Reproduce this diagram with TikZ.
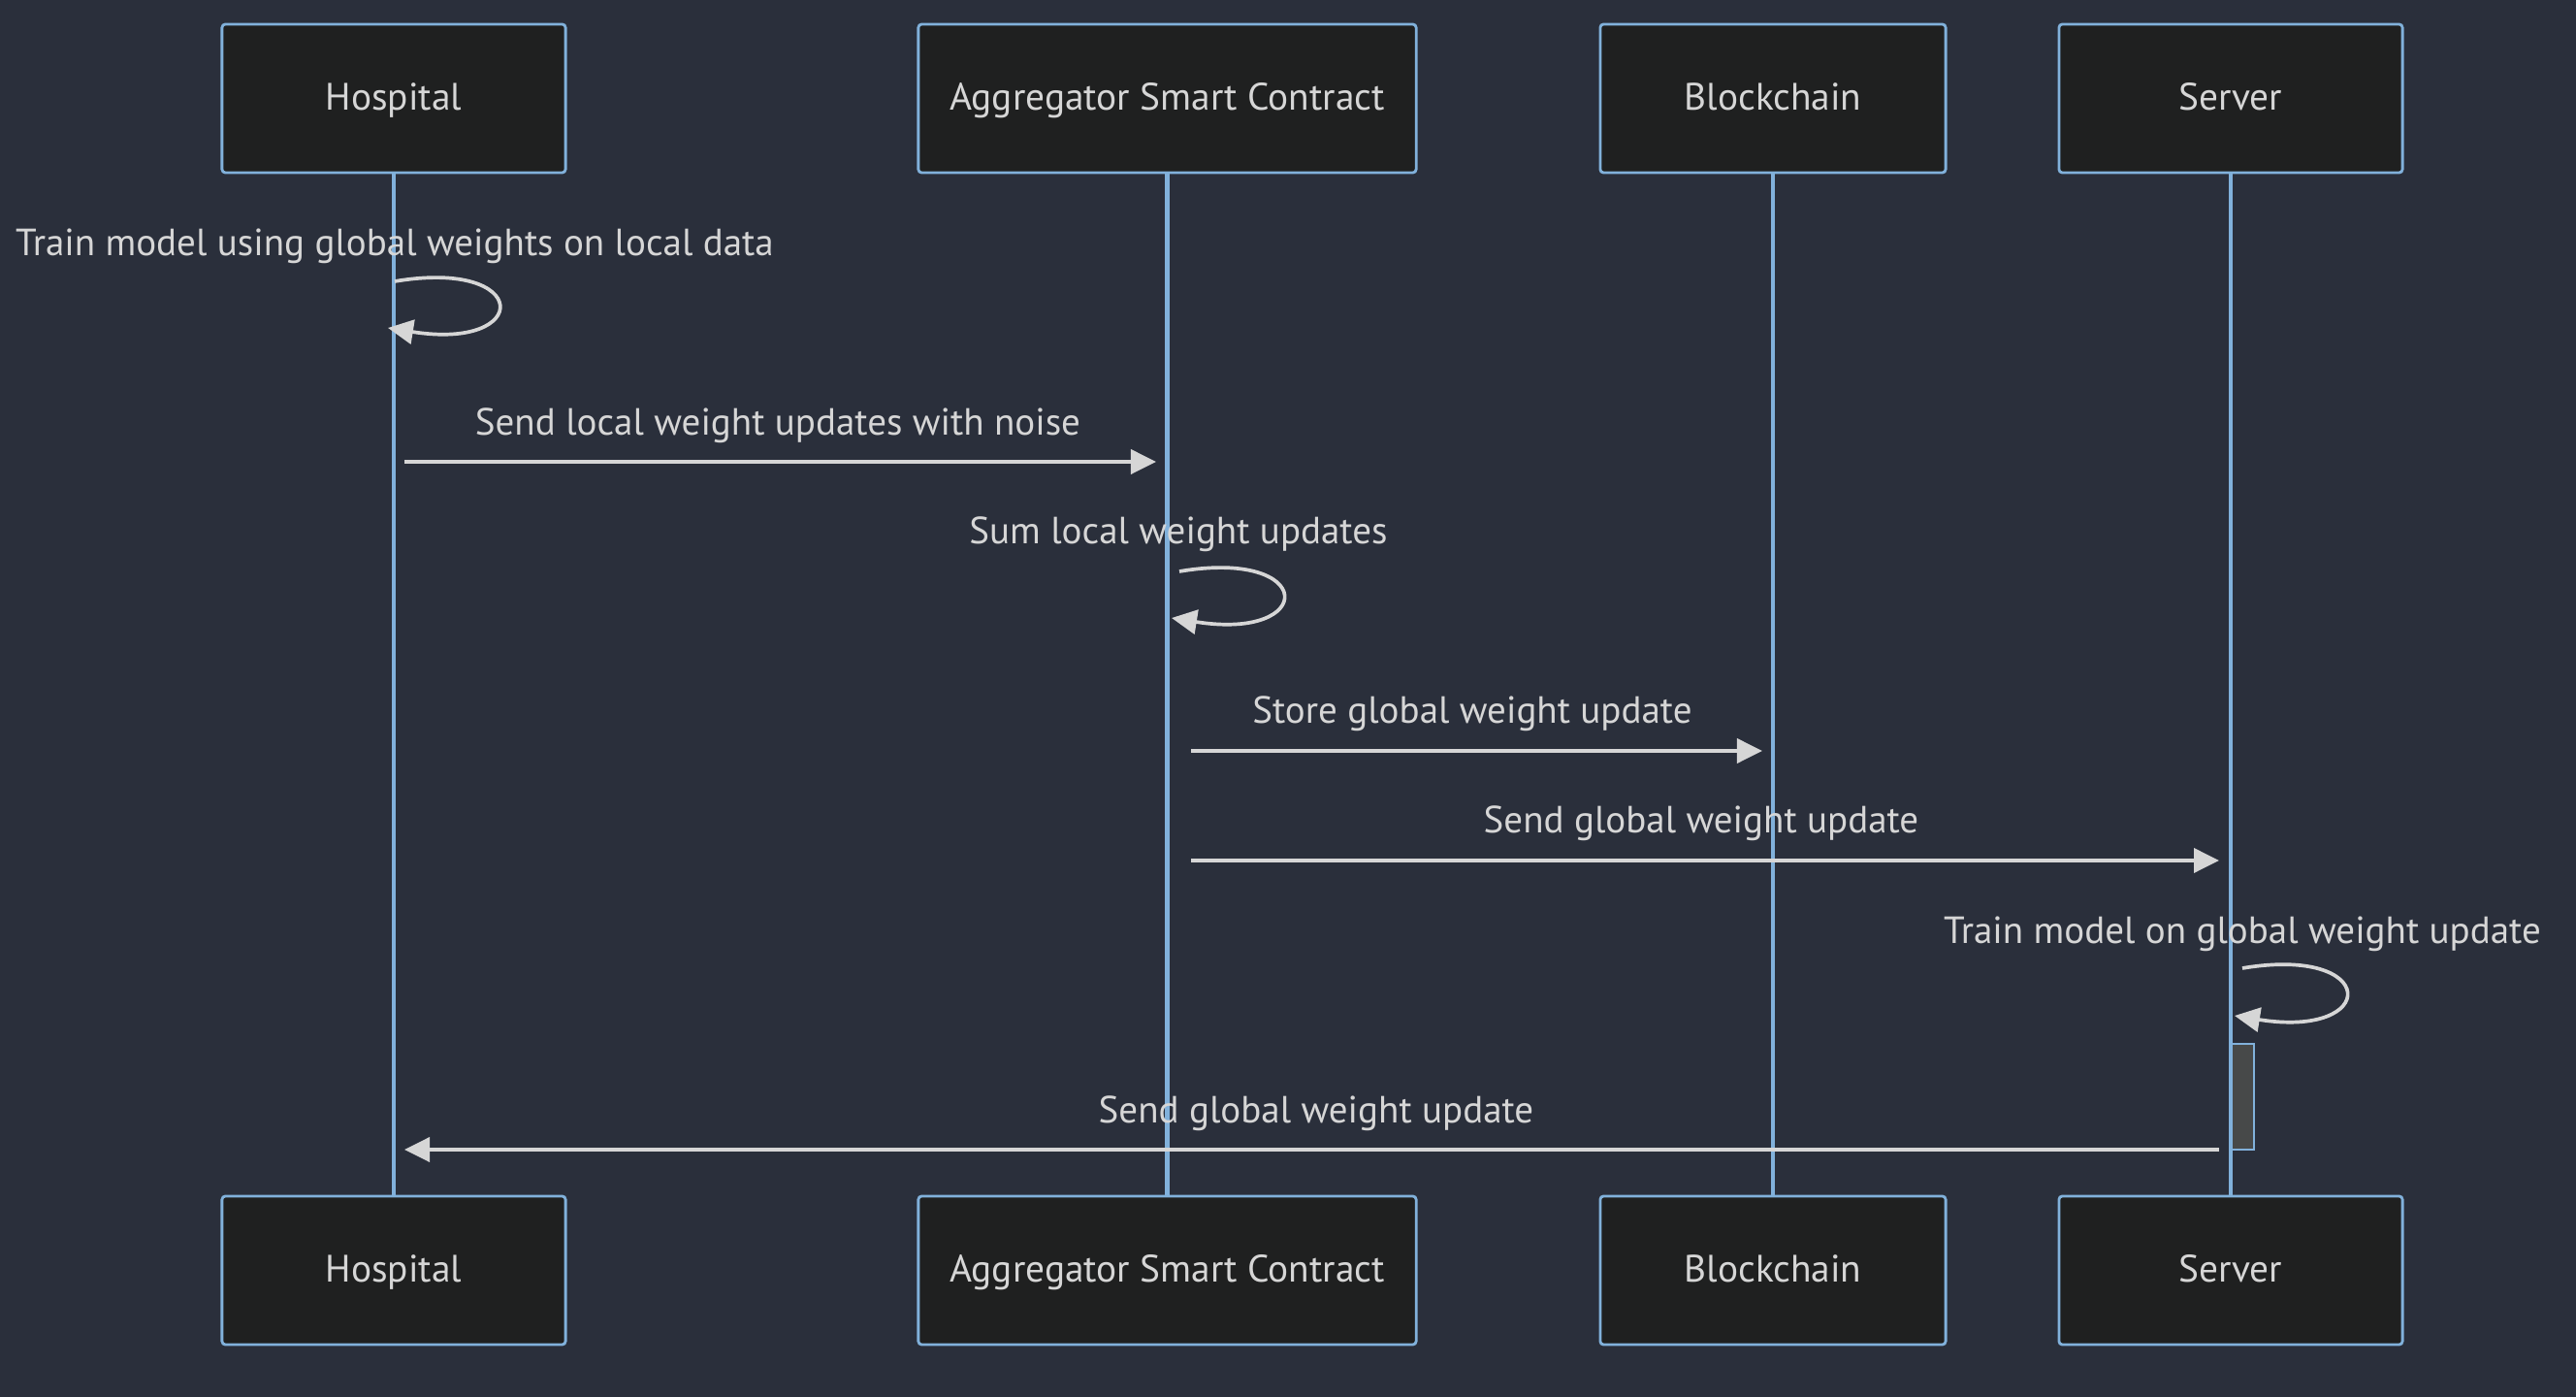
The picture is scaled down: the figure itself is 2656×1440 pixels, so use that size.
\documentclass[tikz,border=0pt]{standalone}
\usepackage{fontspec}
\setmainfont{PT Sans}
\usetikzlibrary{arrows.meta}
\definecolor{mybg}{RGB}{42,47,59}
\definecolor{myblue}{RGB}{129,177,219}
\definecolor{myfill}{RGB}{31,32,32}
\definecolor{mytext}{RGB}{214,214,214}
\definecolor{myact}{RGB}{71,73,73}

\tikzset{
    actor/.style={draw=myblue, fill=myfill, line width=0.8pt, rounded corners=1pt,
        minimum height=1.53cm, text=mytext, text height=0.7em, text depth=0pt,
        font=\fontsize{11.2}{13}\selectfont},
    life/.style={draw=myblue, line width=1.25pt},
    msg/.style={draw=mytext, line width=1.05pt, -{Triangle[length=0.26cm, width=0.25cm]}},
    msgtext/.style={text=mytext, inner sep=0pt, text height=0.7em, text depth=0pt,
        yshift=-0.8pt, font=\fontsize{11.1}{13}\selectfont},
    activ/.style={draw=myblue, fill=myact, line width=0.8pt, minimum width=0.23cm, minimum height=1.09cm, inner sep=0pt}
}

\begin{document}
\begin{tikzpicture}[x=0.01cm, y=-0.01cm]
    % Background
    \fill[mybg] (0,0) rectangle (2656,1440);

    % Participants
    \begin{scope}
        \node[actor, minimum width=3.54cm] (hosp) at (406,101.5) {Hospital};
        \node[actor, minimum width=5.13cm] (aggr) at (1203.5,101.5) {Aggregator Smart Contract};
        \node[actor, minimum width=3.56cm] (chain) at (1828,101.5) {Blockchain};
        \node[actor, minimum width=3.54cm] (serv) at (2300,101.5) {Server};

        \node[actor, minimum width=3.54cm] (hospB) at (406,1309.5) {Hospital};
        \node[actor, minimum width=5.13cm] (aggrB) at (1203.5,1309.5) {Aggregator Smart Contract};
        \node[actor, minimum width=3.56cm] (chainB) at (1828,1309.5) {Blockchain};
        \node[actor, minimum width=3.54cm] (servB) at (2300,1309.5) {Server};

        \draw[life] (hosp.south) -- (hospB.north);
        \draw[life] (aggr.south) -- (aggrB.north);
        \draw[life] (chain.south) -- (chainB.north);
        \draw[life] (serv.south) -- (servB.north);
    \end{scope}

    % Activation on the server
    \node[activ] (act) at (2312.5,1130.5) {};

    % Messages
    \begin{scope}
        \node[msgtext] (t1) at (407,248) {Train model using global weights on local data};
        \coordinate (l1a) at (407,290);
        \coordinate (l1b) at (400,338);
        \draw[msg] (l1a) .. controls +(142,-24) and +(149,24) .. (l1b);

        \node[msgtext] (t2) at (802,433) {Send local weight updates with noise};
        \coordinate (m2a) at (417,476);
        \coordinate (m2b) at (1192,476);
        \draw[msg] (m2a) -- (m2b);

        \node[msgtext] (t3) at (1215,545) {Sum local weight updates};
        \coordinate (l3a) at (1216,589);
        \coordinate (l3b) at (1208,637);
        \draw[msg] (l3a) .. controls +(142,-24) and +(150,24) .. (l3b);

        \node[msgtext] (t4) at (1518,730) {Store global weight update};
        \coordinate (m4a) at (1228,774);
        \coordinate (m4b) at (1817,774);
        \draw[msg] (m4a) -- (m4b);

        \node[msgtext] (t5) at (1754,843) {Send global weight update};
        \coordinate (m5a) at (1228,887);
        \coordinate (m5b) at (2288,887);
        \draw[msg] (m5a) -- (m5b);

        \node[msgtext] (t6) at (2312,957) {Train model on global weight update};
        \coordinate (l6a) at (2312,998);
        \coordinate (l6b) at (2304,1047);
        \draw[msg] (l6a) .. controls +(142,-24) and +(150,24) .. (l6b);

        \node[msgtext] (t7) at (1357,1142) {Send global weight update};
        \coordinate (m7a) at (2288,1185);
        \coordinate (m7b) at (417,1185);
        \draw[msg] (m7a) -- (m7b);
    \end{scope}
\end{tikzpicture}
\end{document}
